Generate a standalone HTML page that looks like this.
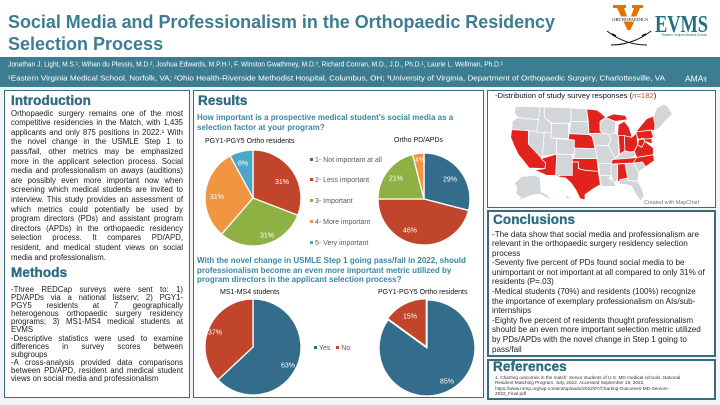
<!DOCTYPE html>
<html><head><meta charset="utf-8">
<style>
*{margin:0;padding:0;box-sizing:border-box}
body{width:720px;height:405px;position:relative;overflow:hidden;background:#f3f4f5;font-family:"Liberation Sans",Arial,sans-serif;color:#1c1c1c}
.p{position:absolute;background:#fff;border:1.6px solid #3a6c7f}
.h{position:absolute;font-weight:bold;font-size:13.5px;line-height:14px;color:#2d6b83;letter-spacing:0.1px;-webkit-text-stroke:0.35px #2d6b83;white-space:nowrap}
.t{position:absolute;font-size:7.8px;line-height:9.6px}
.t div{height:9.6px;white-space:normal}
.m{position:absolute;font-size:7.8px;line-height:8.1px}
.m div{height:8.1px}
.j{text-align:justify;text-align-last:justify}
.c{position:absolute;font-size:8.1px;line-height:9.6px;white-space:nowrap;color:#1c1c1c}
.q{position:absolute;font-weight:bold;font-size:8px;color:#3a87a1;white-space:nowrap}
.lab{position:absolute;font-size:7px;line-height:8px;white-space:nowrap;color:#111}
.lg{position:absolute;font-size:7px;line-height:8px;white-space:nowrap;color:#595959}
.lg i{display:inline-block;width:3px;height:3px;margin-right:2px;vertical-align:1px}
.r{position:absolute;font-size:4.7px;line-height:5.25px;white-space:nowrap;color:#333}
</style></head>
<body>
<div style="position:absolute;left:0;top:0;width:720px;height:57px;background:#fff"></div>

<svg width="720" height="90" style="position:absolute;left:0;top:0" font-family="Liberation Sans, Arial, sans-serif">
  <text x="8" y="28" font-size="18" font-weight="bold" fill="#3c7d93" textLength="547" lengthAdjust="spacingAndGlyphs">Social Media and Professionalism in the Orthopaedic Residency</text>
  <text x="8" y="50" font-size="18" font-weight="bold" fill="#3c7d93">Selection Process</text>
  <rect x="0" y="57" width="720" height="30" fill="#3d7d92"/>
  <text x="8" y="66.5" font-size="7.4" fill="#fff" textLength="495" lengthAdjust="spacingAndGlyphs">Jonathan J. Light, M.S.¹, Wihan du Plessis, M.D.², Joshua Edwards, M.P.H.¹, F. Winston Gwathmey, M.D.³, Richard Conran, M.D., J.D., Ph.D.¹, Laurie L. Wellman, Ph.D.¹</text>
  <text x="8" y="80.5" font-size="7.4" fill="#fff" textLength="657" lengthAdjust="spacingAndGlyphs">¹Eastern Virginia Medical School, Norfolk, VA; ²Ohio Health-Riverside Methodist Hospital, Columbus, OH; ³University of Virginia, Department of Orthopaedic Surgery, Charlottesville, VA</text>
  <text x="685" y="81.5" font-size="8.5" fill="#fff">AMA</text>
  <text x="703" y="82" font-size="8" fill="#fff" font-family="DejaVu Sans, sans-serif">⚕</text>
  <!-- UVA logo -->
  <polygon points="613,5 626,5 626,8 624,8 629,22 634,8 632,8 632,5 643,5 643,8 640,8 630.5,30 627.5,30 617,8 613,8" fill="#e57200"/>
  <rect x="610" y="16.5" width="40" height="5" fill="#fff"/>
  <text x="630" y="20.8" font-size="4.6" text-anchor="middle" font-family="Liberation Serif, serif" fill="#111" textLength="36" lengthAdjust="spacingAndGlyphs">ORTHOPAEDICS</text>
  <path d="M607,31 Q625,45 647,45" stroke="#111" stroke-width="1" fill="none"/>
  <path d="M651,31 Q633,45 611,45" stroke="#111" stroke-width="1" fill="none"/>
  <path d="M612,34 l4,2 M646,34 l-4,2" stroke="#111" stroke-width="1.6"/>
  <!-- EVMS -->
  <text x="655" y="32" font-size="24" font-weight="bold" font-family="Liberation Serif, serif" fill="#21707a" textLength="53" lengthAdjust="spacingAndGlyphs">EVMS</text>
  <text x="662" y="35.8" font-size="3.4" fill="#21707a" textLength="45" lengthAdjust="spacingAndGlyphs">Eastern Virginia Medical School</text>
</svg>

<!-- Panels -->
<div class="p" style="left:4px;top:90px;width:186px;height:308px"></div>
<div class="p" style="left:193px;top:90px;width:291px;height:308px"></div>
<div class="p" style="left:487px;top:90px;width:229px;height:118px"></div>
<div class="p" style="left:487px;top:210px;width:229px;height:147px;border-width:2px"></div>
<div class="p" style="left:487px;top:359px;width:229px;height:41px;border-width:2px"></div>

<!-- Left column -->
<div class="h" style="left:11px;top:94px">Introduction</div>
<div class="t" style="left:11px;top:108.7px;width:172px">
<div class="j">Orthopaedic surgery remains one of the most</div>
<div class="j">competitive residencies in the Match, with 1,435</div>
<div class="j">applicants and only 875 positions in 2022.¹ With</div>
<div class="j">the novel change in the USMLE Step 1 to</div>
<div class="j">pass/fail, other metrics may be emphasized</div>
<div class="j">more in the applicant selection process. Social</div>
<div class="j">media and professionalism on aways (auditions)</div>
<div class="j">are possibly even more important now when</div>
<div class="j">screening which medical students are invited to</div>
<div class="j">interview. This study provides an assessment of</div>
<div class="j">which metrics could potentially be used by</div>
<div class="j">program directors (PDs) and assistant program</div>
<div class="j">directors (APDs) in the orthopaedic residency</div>
<div class="j">selection process. It compares PD/APD,</div>
<div class="j">resident, and medical student views on social</div>
<div>media and professionalism.</div>
</div>
<div class="h" style="left:11px;top:266px">Methods</div>
<div class="m" style="left:11px;top:286px;width:172px">
<div class="j">-Three REDCap surveys were sent to: 1)</div>
<div class="j">PD/APDs via a national listserv; 2) PGY1-</div>
<div class="j">PGY5 residents at 7 geographically</div>
<div class="j">heterogenous orthopaedic surgery residency</div>
<div class="j">programs; 3) MS1-MS4 medical students at</div>
<div>EVMS</div>
<div class="j">-Descriptive statistics were used to examine</div>
<div class="j">differences in survey scores between</div>
<div>subgroups</div>
<div class="j">-A cross-analysis provided data comparisons</div>
<div class="j">between PD/APD, resident and medical student</div>
<div>views on social media and professionalism</div>
</div>

<!-- Middle column -->
<div class="h" style="left:198px;top:94px">Results</div>
<div class="q" style="left:197px;top:113.3px;line-height:9.5px">How important is a prospective medical student's social media as a<br>selection factor at your program?</div>
<div class="lab" style="left:205px;top:138px">PGY1-PGY5 Ortho residents</div>
<div class="lab" style="left:394px;top:137px">Ortho PD/APDs</div>
<div class="lg" style="left:310px;top:156.7px"><i style="background:#336d8b"></i>1- Not important at all</div>
<div class="lg" style="left:310px;top:177.3px"><i style="background:#c1452b"></i>2- Less important</div>
<div class="lg" style="left:310px;top:198px"><i style="background:#8db243"></i>3- Important</div>
<div class="lg" style="left:310px;top:219.3px"><i style="background:#f29540"></i>4- More important</div>
<div class="lg" style="left:310px;top:240px"><i style="background:#4ba7c9"></i>5- Very important</div>

<div class="q" style="left:197px;top:255.8px;line-height:9.8px">With the novel change in USMLE Step 1 going pass/fail in 2022, should<br>professionalism become an even more important metric utilized by<br>program directors in the applicant selection process?</div>
<div class="lab" style="left:220px;top:289px">MS1-MS4 students</div>
<div class="lab" style="left:378px;top:289px">PGY1-PGY5 Ortho residents</div>
<div class="lg" style="left:314px;top:345px"><i style="background:#336d8b"></i>Yes&nbsp;&nbsp;&nbsp;<i style="background:#c1452b"></i>No</div>

<!-- Right column -->
<div class="lab" style="left:495px;top:92.3px;font-size:7.7px">-Distribution of study survey responses (<span style="color:#e0443a"><i>n</i>=182</span>)</div>
<div class="lab" style="left:644px;top:198.5px;font-size:5.4px;color:#777">Created with MapChart</div>

<div class="h" style="left:493px;top:213px">Conclusions</div>
<div class="c" style="left:492px;top:229.5px">
-The data show that social media and professionalism are<br>
relevant in the orthopaedic surgery residency selection<br>
process<br>
-Seventy five percent of PDs found social media to be<br>
unimportant or not important at all compared to only 31% of<br>
residents (P=.03)<br>
-Medical students (70%) and residents (100%) recognize<br>
the importance of exemplary professionalism on AIs/sub-<br>
internships<br>
-Eighty five percent of residents thought professionalism<br>
should be an even more important selection metric utilized<br>
by PDs/APDs with the novel change in Step 1 going to<br>
pass/fail
</div>

<div class="h" style="left:493px;top:360px">References</div>
<div class="r" style="left:495px;top:375.1px">
1. Charting outcomes in the match: Senior students of U.S. MD medical schools. National<br>
Resident Matching Program. July, 2022. Accessed September 19, 2022.<br>
https://www.nrmp.org/wp-content/uploads/2022/07/Charting-Outcomes-MD-Seniors-<br>
2022_Final.pdf
</div>

<!-- Charts and map -->
<svg width="720" height="405" style="position:absolute;left:0;top:0" font-family="Liberation Sans, Arial, sans-serif">
  <g stroke="#fff" stroke-width="1.3" stroke-linejoin="round">
    <!-- Pie 1 -->
    <path d="M253,198 L253,150 A48,48 0 0 1 297.81,215.20 Z" fill="#c1452b"/>
    <path d="M253,198 L297.81,215.20 A48,48 0 0 1 221.51,234.23 Z" fill="#8db243"/>
    <path d="M253,198 L221.51,234.23 A48,48 0 0 1 230.09,155.82 Z" fill="#f29540"/>
    <path d="M253,198 L230.09,155.82 A48,48 0 0 1 253,150 Z" fill="#4ba7c9"/>
    <!-- Pie 2 -->
    <path d="M424,199 L424,153 A46,46 0 0 1 468.56,210.44 Z" fill="#336d8b"/>
    <path d="M424,199 L468.56,210.44 A46,46 0 0 1 378,199 Z" fill="#c1452b"/>
    <path d="M424,199 L378,199 A46,46 0 0 1 412.56,154.44 Z" fill="#8db243"/>
    <path d="M424,199 L412.56,154.44 A46,46 0 0 1 424,153 Z" fill="#f29540"/>
    <!-- Pie 3 -->
    <path d="M253,347 L253,299 A48,48 0 1 1 218.01,379.86 Z" fill="#336d8b"/>
    <path d="M253,347 L218.01,379.86 A48,48 0 0 1 253,299 Z" fill="#c1452b"/>
    <!-- Pie 4 -->
    <path d="M427,348 L427,300 A48,48 0 1 1 388.17,319.79 Z" fill="#336d8b"/>
    <path d="M426.3,346.7 L387.47,318.49 A48,48 0 0 1 426.3,298.7 Z" fill="#c1452b"/>
  </g>
  <g fill="#fff" font-size="7" text-anchor="middle">
    <text x="282" y="184">31%</text>
    <text x="267" y="237.5">31%</text>
    <text x="217" y="199">31%</text>
    <text x="243" y="165.5">8%</text>
    <text x="450" y="181.5">29%</text>
    <text x="410" y="232.5">46%</text>
    <text x="396" y="180.5">21%</text>
    <text x="420" y="162">4%</text>
    <text x="288" y="367.5">63%</text>
    <text x="215" y="334.5">37%</text>
    <text x="410" y="318.5">15%</text>
    <text x="447" y="383.5">85%</text>
  </g>

  <!-- US map -->
  <g transform="translate(485,88) scale(0.33333)" stroke="#fff" stroke-width="2.2" stroke-linejoin="round">
    <g fill="#d3d6d9">
      <polygon points="92,55 165,57 163,95 120,92 98,88 88,75"/>
      <polygon points="98,88 120,92 163,95 155,130 80,125 82,100"/>
      <polygon points="130,128 178,132 172,205 168,212 130,168"/>
      <polygon points="165,57 178,57 178,88 200,108 198,135 155,132 160,100"/>
      <polygon points="178,57 258,60 258,105 200,106 178,88"/>
      <polygon points="200,106 250,106 250,152 198,150"/>
      <polygon points="178,132 198,135 198,150 215,152 215,198 172,205"/>
      <polygon points="215,152 268,156 268,200 215,198"/>
      <polygon points="215,198 262,200 262,262 228,262 212,266"/>
      <polygon points="258,60 305,63 308,100 258,100"/>
      <polygon points="258,100 308,100 312,140 252,137"/>
      <polygon points="268,180 332,182 336,212 262,212 268,200"/>
      <polygon points="312,137 352,135 372,140 378,155 370,172 330,174 322,146"/>
      <polygon points="330,174 370,172 382,195 390,212 380,226 340,226 336,212 332,182"/>
      <polygon points="340,226 380,226 378,262 345,262"/>
      <polygon points="345,262 378,262 372,272 388,278 392,295 350,295 347,285"/>
      <polygon points="345,100 362,88 378,95 392,100 390,135 372,140 352,135 345,128"/>
      <polygon points="372,140 390,135 400,143 402,198 390,212 382,195 370,172 378,155"/>
      <polygon points="390,212 404,198 420,188 434,192 448,190 455,200 442,210 388,214"/>
      <polygon points="378,228 398,228 398,280 385,283 378,262"/>
      <polygon points="420,227 445,225 462,252 458,280 428,278 428,270"/>
      <polygon points="400,283 405,275 428,270 428,278 458,280 470,300 478,325 466,338 452,318 440,295 425,290 405,288"/>
      <polygon points="445,225 472,222 482,236 462,252"/>
      <polygon points="498,126 508,128 510,150 502,152 505,145"/>
      <polygon points="505,85 515,60 535,48 548,55 562,78 540,100 525,118 510,128 508,128 510,110"/>
      <polygon points="110,265 150,262 165,268 168,310 185,320 200,335 185,330 165,318 140,322 120,330 100,338 108,328 92,318 96,300 88,285 100,275"/>
      <polygon points="205,310 211,312 209,316"/>
      <polygon points="218,314 225,316 221,320"/>
      <polygon points="230,318 237,320 233,324"/>
      <polygon points="243,322 256,328 248,334 242,328"/>
    </g>
    <g fill="#e2231d">
      <polygon points="80,125 130,128 130,168 182,224 180,242 132,240 118,222 100,200 88,175 77,148"/>
      <polygon points="168,212 215,198 212,262 185,262 148,246 180,242 182,224"/>
      <polygon points="252,137 312,140 322,146 330,182 268,180 268,156 250,154"/>
      <polygon points="262,212 336,212 340,250 300,247 280,242 280,222 262,222"/>
      <polygon points="262,222 280,222 280,242 300,247 340,250 346,290 325,302 300,320 300,336 285,332 272,305 258,285 242,270 214,266 228,262 262,262"/>
      <polygon points="305,63 335,66 348,75 362,88 345,100 345,128 352,135 312,137 310,100"/>
      <polygon points="362,88 385,78 420,82 428,95 392,100 378,95"/>
      <polygon points="400,110 418,100 432,118 440,142 432,165 405,165 398,140"/>
      <polygon points="400,143 418,143 420,188 404,198 402,170"/>
      <polygon points="418,143 440,148 455,135 458,170 448,190 434,192 420,188"/>
      <polygon points="388,214 442,210 455,208 445,225 378,228 382,215"/>
      <polygon points="398,228 420,227 428,270 405,275 400,283 398,280"/>
      <polygon points="445,225 455,208 505,200 508,218 482,236 472,222"/>
      <polygon points="455,208 448,190 458,170 470,178 480,160 505,180 505,200"/>
      <polygon points="458,170 462,152 475,150 480,160 470,178"/>
      <polygon points="452,132 498,126 505,145 500,152 460,154 455,140"/>
      <polygon points="452,132 470,110 485,92 505,85 510,110 508,128 498,126"/>
      <polygon points="462,154 500,152 502,168 480,160 475,150"/>
    </g>
  </g>
</svg>
</body></html>
